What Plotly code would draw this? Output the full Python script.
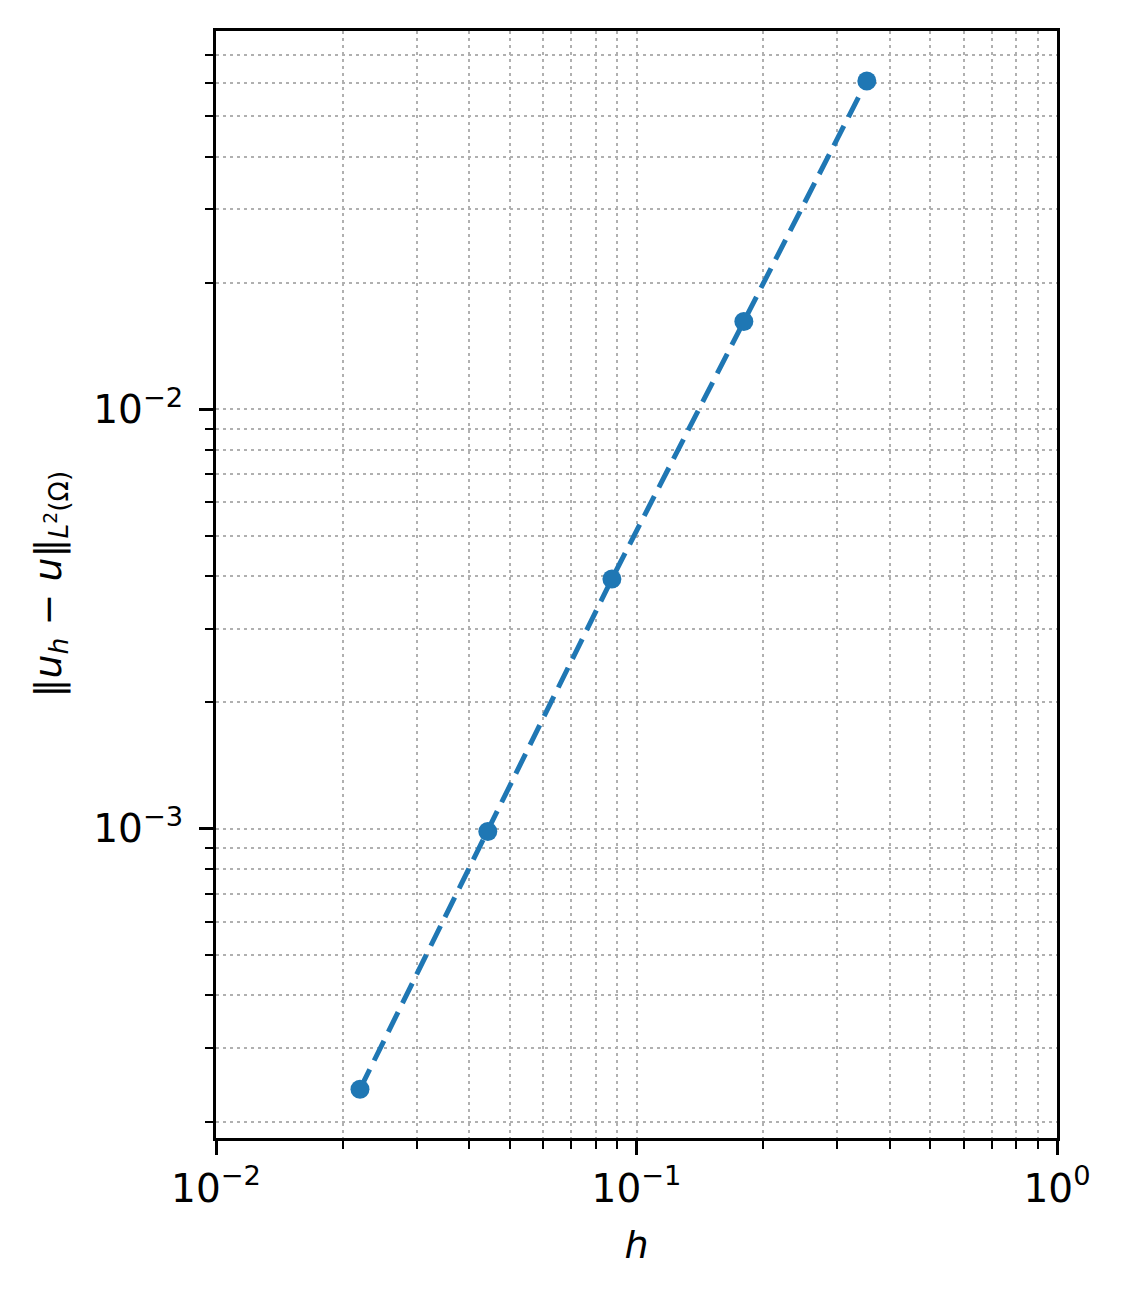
import numpy as np
import plotly.graph_objects as go

# Data
h = [0.0220, 0.0443, 0.0874, 0.180, 0.353]
err = [0.000239, 0.000984, 0.00394, 0.0162, 0.0607]

x_tickvals = [0.01, 0.1, 1.0]
x_ticktext = ["10<sup>−2</sup>", "10<sup>−1</sup>", "10<sup>0</sup>"]
y_tickvals = [0.001, 0.01]
y_ticktext = ["10<sup>−3</sup>", "10<sup>−2</sup>"]

x_minor = [m * 10.0**k for k in (-2, -1) for m in range(2, 10)]
y_minor = [m * 10.0**k for k in (-4, -3, -2) for m in range(2, 10)]

y_title = "‖<i>u</i><sub><i>h</i></sub> − <i>u</i>‖<sub><i>L</i><sup>2</sup>(Ω)</sub>"

BLUE = "#1f77b4"
GRID = "#b0b0b0"
FONT = "DejaVu Sans"

fig = go.Figure()
fig.add_trace(go.Scatter(
    x=h, y=err, mode="lines+markers",
    line=dict(color=BLUE, width=5, dash="22px,10px"),
    marker=dict(color=BLUE, size=19, line=dict(width=0)),
    showlegend=False,
))

axis_common = dict(
    type="log",
    showline=True, linecolor="black", linewidth=3, mirror=True,
    ticks="outside", ticklen=14, tickwidth=3, tickcolor="black",
    showgrid=True, gridcolor=GRID, gridwidth=2, griddash="3px,4px",
    zeroline=False,
    tickfont=dict(family=FONT, size=39, color="black"),
)

fig.update_xaxes(
    **axis_common,
    range=[-2, 0],
    tickmode="array", tickvals=x_tickvals, ticktext=x_ticktext,
    minor=dict(tickmode="array", tickvals=x_minor, ticks="outside", ticklen=8,
               tickwidth=2, tickcolor="black", showgrid=True, gridcolor=GRID,
               gridwidth=2, griddash="3px,4px"),
    title=dict(text="<i>h</i>", font=dict(family=FONT, size=38, color="black"), standoff=22),
)
fig.update_yaxes(
    **axis_common,
    range=[-3.738, -1.0976],
    tickmode="array", tickvals=y_tickvals, ticktext=y_ticktext,
    ticklabelstandoff=8,
    minor=dict(tickmode="array", tickvals=y_minor, ticks="outside", ticklen=8,
               tickwidth=2, tickcolor="black", showgrid=True, gridcolor=GRID,
               gridwidth=2, griddash="3px,4px"),
)

fig.add_annotation(
    text=y_title, textangle=-90,
    xref="paper", yref="paper", x=0, y=0.5,
    xanchor="center", yanchor="middle", xshift=-166,
    showarrow=False,
    font=dict(family=FONT, size=38, color="black"),
)

fig.update_layout(
    width=1123, height=1295,
    margin=dict(l=208, r=74, t=23, b=165, autoexpand=False),
    paper_bgcolor="white", plot_bgcolor="white",
    font=dict(family=FONT, size=38, color="black"),
)

fig.write_html("out.html")
